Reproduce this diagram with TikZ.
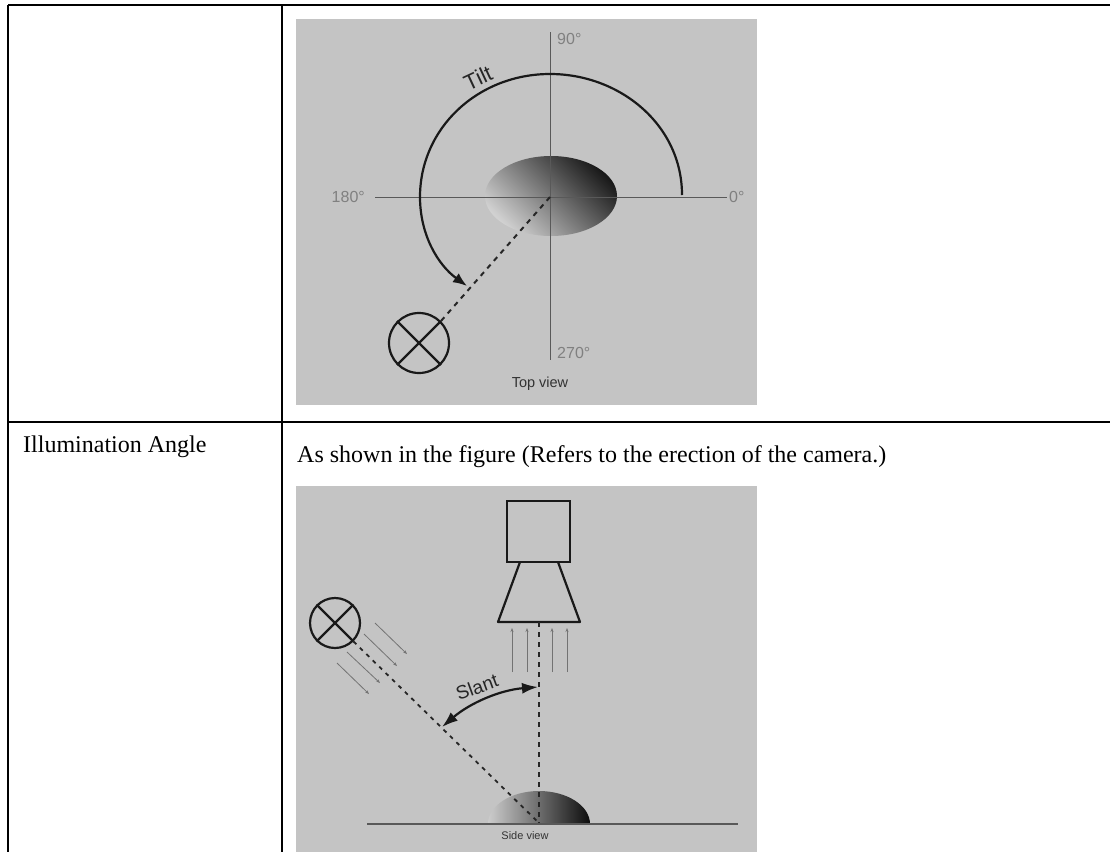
\documentclass[tikz,border=0pt]{standalone}
\usepackage{fontspec}
\setmainfont{Liberation Serif}
\newfontfamily\figfont{Liberation Sans}
\usetikzlibrary{shapes,arrows,arrows.meta,positioning,calc}

\definecolor{panelgray}{HTML}{C4C4C4}
\definecolor{labelgray}{HTML}{808080}

\begin{document}
\begin{tikzpicture}[
    x=1pt, y=-1pt,
    tablerule/.style={line width=2pt, black},
    panel/.style={fill=panelgray, draw=none},
    cell/.style={font=\fontsize{24}{28}\selectfont, inner sep=0pt, anchor=base west},
    axisline/.style={line width=1pt, black!65},
    deg/.style={font=\figfont\fontsize{16}{19}\selectfont, text=labelgray, inner sep=0pt},
    viewname/.style={font=\figfont\fontsize{14.5}{17}\selectfont, text=black!80, inner sep=0pt},
    anglename/.style={font=\figfont\fontsize{22}{25}\selectfont, text=black!85, inner sep=0pt},
    heavy/.style={line width=2.2pt, black!90},
    ray/.style={line width=2.4pt, dash pattern=on 5pt off 5pt, black!85},
    lamp/.style={circle, draw, line width=2.2pt, black!90, inner sep=0pt},
    thinarrow/.style={-{Stealth[length=4pt,width=3pt]}, line width=0.8pt, black!55}
]
    \useasboundingbox (0,0) rectangle (1110,852);

    % Table rules
    \coordinate (tl) at (8,5);
    \coordinate (tm) at (282,5);
    \coordinate (tr) at (1110,5);
    \coordinate (ml) at (8,422);
    \coordinate (mm) at (282,422);
    \coordinate (mr) at (1110,422);
    \coordinate (bl) at (8,852);
    \coordinate (bm) at (282,852);
    \draw[tablerule] (tl) -- (tr);
    \draw[tablerule] (ml) -- (mr);
    \draw[tablerule] (tl) -- (bl);
    \draw[tablerule] (tm) -- (bm);

    \node[cell] (angle_label) at (23,452) {Illumination Angle};
    \node[cell] (shown_label) at (297,462) {As shown in the figure (Refers to the erection of the camera.)};

    % Top view
    \fill[panel] (296,19) rectangle (757,405);
    \shade[top color=black!90, bottom color=black!18, shading angle=-45]
        (551,196) ellipse [x radius=66, y radius=40];
    \coordinate (origin_top) at (550,197);
    \coordinate (north) at (550,32);
    \coordinate (south) at (550,360);
    \coordinate (west) at (375,197);
    \coordinate (east) at (727,197);
    \draw[axisline] (north) -- (south);
    \draw[axisline] (west) -- (east);
    \node[deg, anchor=west] (deg90) at (557,39) {90°};
    \node[deg, anchor=east] (deg180) at (365,197) {180°};
    \node[deg, anchor=west] (deg0) at (729,197) {0°};
    \node[deg, anchor=west] (deg270) at (557,353) {270°};
    \node[viewname] (top_view) at (540,384) {Top view};

    \node[lamp, minimum size=60pt] (lamp_top) at (419,343) {};
    \draw[heavy] (lamp_top.45) -- (lamp_top.225);
    \draw[heavy] (lamp_top.135) -- (lamp_top.315);
    \draw[ray, line width=2pt] (origin_top) -- (lamp_top.45);

    \draw[heavy, -{Latex[length=14pt,width=11pt]}] (682,195)
        .. controls (682,125) and (620,74) .. (550,74)
        .. controls (478,74) and (420,128) .. (420,197)
        .. controls (420,235) and (438,265) .. (467,286);
    \node[anglename, rotate=25] (tilt) at (478,78) {Tilt};

    % Side view
    \fill[panel] (296,486) rectangle (757,852);
    \shade[left color=black!20, right color=black!95]
        (488,824) arc [start angle=180, end angle=360, x radius=51, y radius=33] -- cycle;
    \node[draw, heavy, minimum width=63pt, minimum height=61pt, inner sep=0pt] (camera) at (538.5,531.5) {};
    \coordinate (lens_tl) at (520,562);
    \coordinate (lens_tr) at (558,562);
    \coordinate (lens_bl) at (498,622);
    \coordinate (lens_br) at (580,622);
    \draw[heavy, line join=round] (lens_tl) -- (lens_bl) -- (lens_br) -- (lens_tr);

    \coordinate (axis_top) at (539,622);
    \coordinate (target) at (539,823);
    \coordinate (ground_l) at (367,824);
    \coordinate (ground_r) at (738,824);
    \draw[line width=2pt, black!65] (ground_l) -- (ground_r);
    \draw[ray] (axis_top) -- (target);

    \node[lamp, minimum size=50pt] (lamp_side) at (335,623) {};
    \draw[heavy] (lamp_side.45) -- (lamp_side.225);
    \draw[heavy] (lamp_side.135) -- (lamp_side.315);
    \draw[ray, line width=1.8pt, dash pattern=on 4pt off 5pt] (lamp_side.315) -- (target);

    \foreach \x in {512,527,552,567}
        \draw[thinarrow] (\x,672) -- (\x,628);

    \draw[thinarrow] (375,623) -- (407,654);
    \draw[thinarrow] (364,634) -- (397,666);
    \draw[thinarrow] (347,652) -- (380,683);
    \draw[thinarrow] (337,663) -- (369,694);

    \draw[heavy, {Latex[length=16pt,width=11pt]}-{Latex[length=16pt,width=11pt]}] (442,727)
        .. controls (470,703) and (500,690) .. (538,687);
    \node[anglename, font=\figfont\fontsize{19}{22}\selectfont, rotate=20] (slant) at (477,687) {Slant};
    \node[viewname, font=\figfont\fontsize{11}{13}\selectfont] (side_view) at (525,836) {Side view};
\end{tikzpicture}
\end{document}
